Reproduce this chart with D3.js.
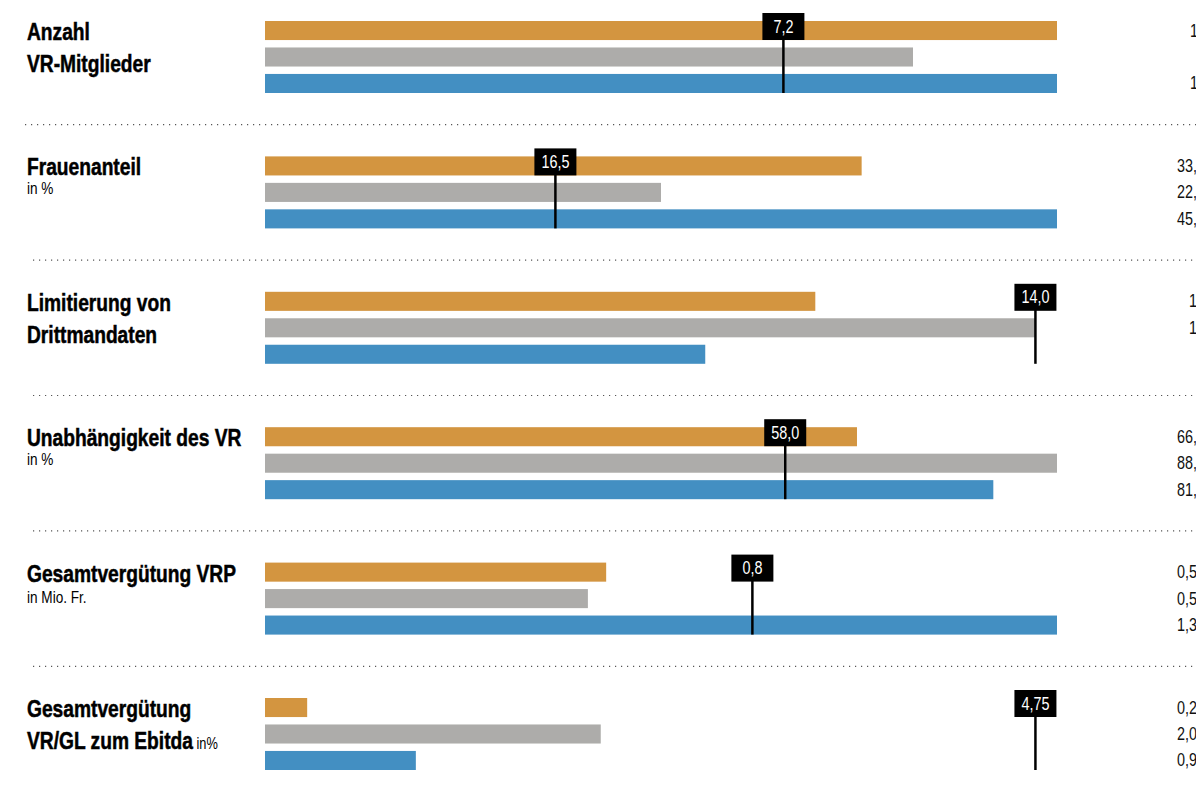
<!DOCTYPE html>
<html>
<head>
<meta charset="utf-8">
<script src="https://cdn.jsdelivr.net/npm/d3@7"></script>
<style>
  body { margin: 0; background: #fff; }
  text { font-family: "Liberation Sans", Arial, sans-serif; }
</style>
</head>
<body>
<div id="chart-area"></div>
<script>
// Kennzahlen, drei Reihen pro Block
var sections = ["Anzahl", "Frauen", "Limitierung", "Unabh", "VergVRP", "VergEbitda"];
var titleLines = [
	["Anzahl", "VR-Mitglieder"],
	["Frauenanteil"],
	["Limitierung von", "Drittmandaten"],
	["Unabhängigkeit des VR"],
	["Gesamtvergütung VRP"],
	["Gesamtvergütung", "VR/GL zum Ebitda"]
];
var subTitles = ["", "in %", "", "in %", "in Mio. Fr.", "in%"];
var series = ["orange", "grau", "blau"];
var valuesOrange = [11, 33.9, 10, 66.0, 0.56, 0.26];
var valuesGray   = [9, 22.5, 14, 88.3, 0.53, 2.07];
var valuesBlue   = [11, 45.0, 8, 81.2, 1.30, 0.93];
var markers      = [7.2, 16.5, 14.0, 58.0, 0.8, 4.75];
var markerLabels = ["7,2", "16,5", "14,0", "58,0", "0,8", "4,75"];
var decimals     = [0, 1, 0, 1, 2, 2];

var colors = { orange: "#d39540", grau: "#adacaa", blau: "#438fc2" };
var narrow = 0.8; // schmale Schrift nachbilden

var width = 1196, height = 800;
var svg = d3.select("#chart-area").append("svg")
	.attr("width", width)
	.attr("height", height);

// Blockposition
var ySection = d3.scalePoint().domain(sections).range([21, 698]);
// Balken innerhalb des Blocks
var yBar = d3.scaleBand().domain(series).range([0, 72]).paddingInner(0.28);

var fmt = function(v, dec){ return v.toFixed(dec).replace(".", ","); };

// Text in schmaler Form
function label(parent, x, y){
	return parent.append("g")
		.attr("transform", "translate(" + x + "," + y + ") scale(" + narrow + ",1)")
		.append("text");
}

sections.forEach(function(s, i){
	var vals = [valuesOrange[i], valuesGray[i], valuesBlue[i]];
	var top = ySection(s);
	var maxV = Math.max(d3.max(vals), markers[i] * 1.028);
	var x = d3.scaleLinear().domain([0, maxV]).range([265, 1057]);

	var g = svg.append("g").attr("transform", "translate(0," + top + ")");

	g.selectAll("rect.bar")
		.data(vals)
		.enter().append("rect")
			.attr("class", "bar")
			.attr("x", x(0))
			.attr("y", function(d, j){ return yBar(series[j]); })
			.attr("width", function(d){ return x(d) - x(0); })
			.attr("height", yBar.bandwidth())
			.attr("fill", function(d, j){ return colors[series[j]]; });

	// Werte rechts (angeschnitten wie im Original)
	vals.forEach(function(d, j){
		label(g, 1205, yBar(series[j]) + yBar.bandwidth() / 2 + 6)
			.attr("text-anchor", "end")
			.attr("font-size", "18px")
			.attr("fill", "#111")
			.text(fmt(d, decimals[i]));
	});

	// Marker
	var mx = x(markers[i]);
	g.append("line")
		.attr("x1", mx).attr("x2", mx)
		.attr("y1", -4)
		.attr("y2", yBar("blau") + yBar.bandwidth())
		.attr("stroke", "#000")
		.attr("stroke-width", 2.5);
	g.append("rect")
		.attr("x", mx - 21)
		.attr("y", -8)
		.attr("width", 42)
		.attr("height", 27)
		.attr("fill", "#000");
	label(g, mx, 11.5)
		.attr("text-anchor", "middle")
		.attr("font-size", "18px")
		.attr("fill", "#fff")
		.text(markerLabels[i]);

	// Titel
	var t = label(g, 27, 19)
		.attr("font-size", "24px")
		.attr("font-weight", "bold")
		.attr("fill", "#000")
		.attr("stroke", "#000")
		.attr("stroke-width", 0.5);
	titleLines[i].forEach(function(line, k){
		t.append("tspan")
			.attr("x", 0)
			.attr("dy", k === 0 ? 0 : 32)
			.text(line);
	});
	if (subTitles[i]) {
		if (titleLines[i].length > 1) {
			t.append("tspan")
				.attr("font-weight", "normal")
				.attr("stroke-width", 0)
				.attr("font-size", "16px")
				.text(" " + subTitles[i]);
		} else {
			label(g, 27, i === 4 ? 40 : 38)
				.attr("font-size", "17px")
				.attr("fill", "#000")
				.text(subTitles[i]);
		}
	}

	// gepunktete Trennlinie
	if (i < sections.length - 1) {
		var sy = (top + 72 + ySection(sections[i + 1])) / 2;
		svg.append("line")
			.attr("x1", i === 0 ? 25 : 33)
			.attr("x2", width)
			.attr("y1", sy).attr("y2", sy)
			.attr("stroke", "#555")
			.attr("stroke-width", 1.2)
			.attr("stroke-dasharray", "1.2,4.8");
	}
});
</script>
</body>
</html>
